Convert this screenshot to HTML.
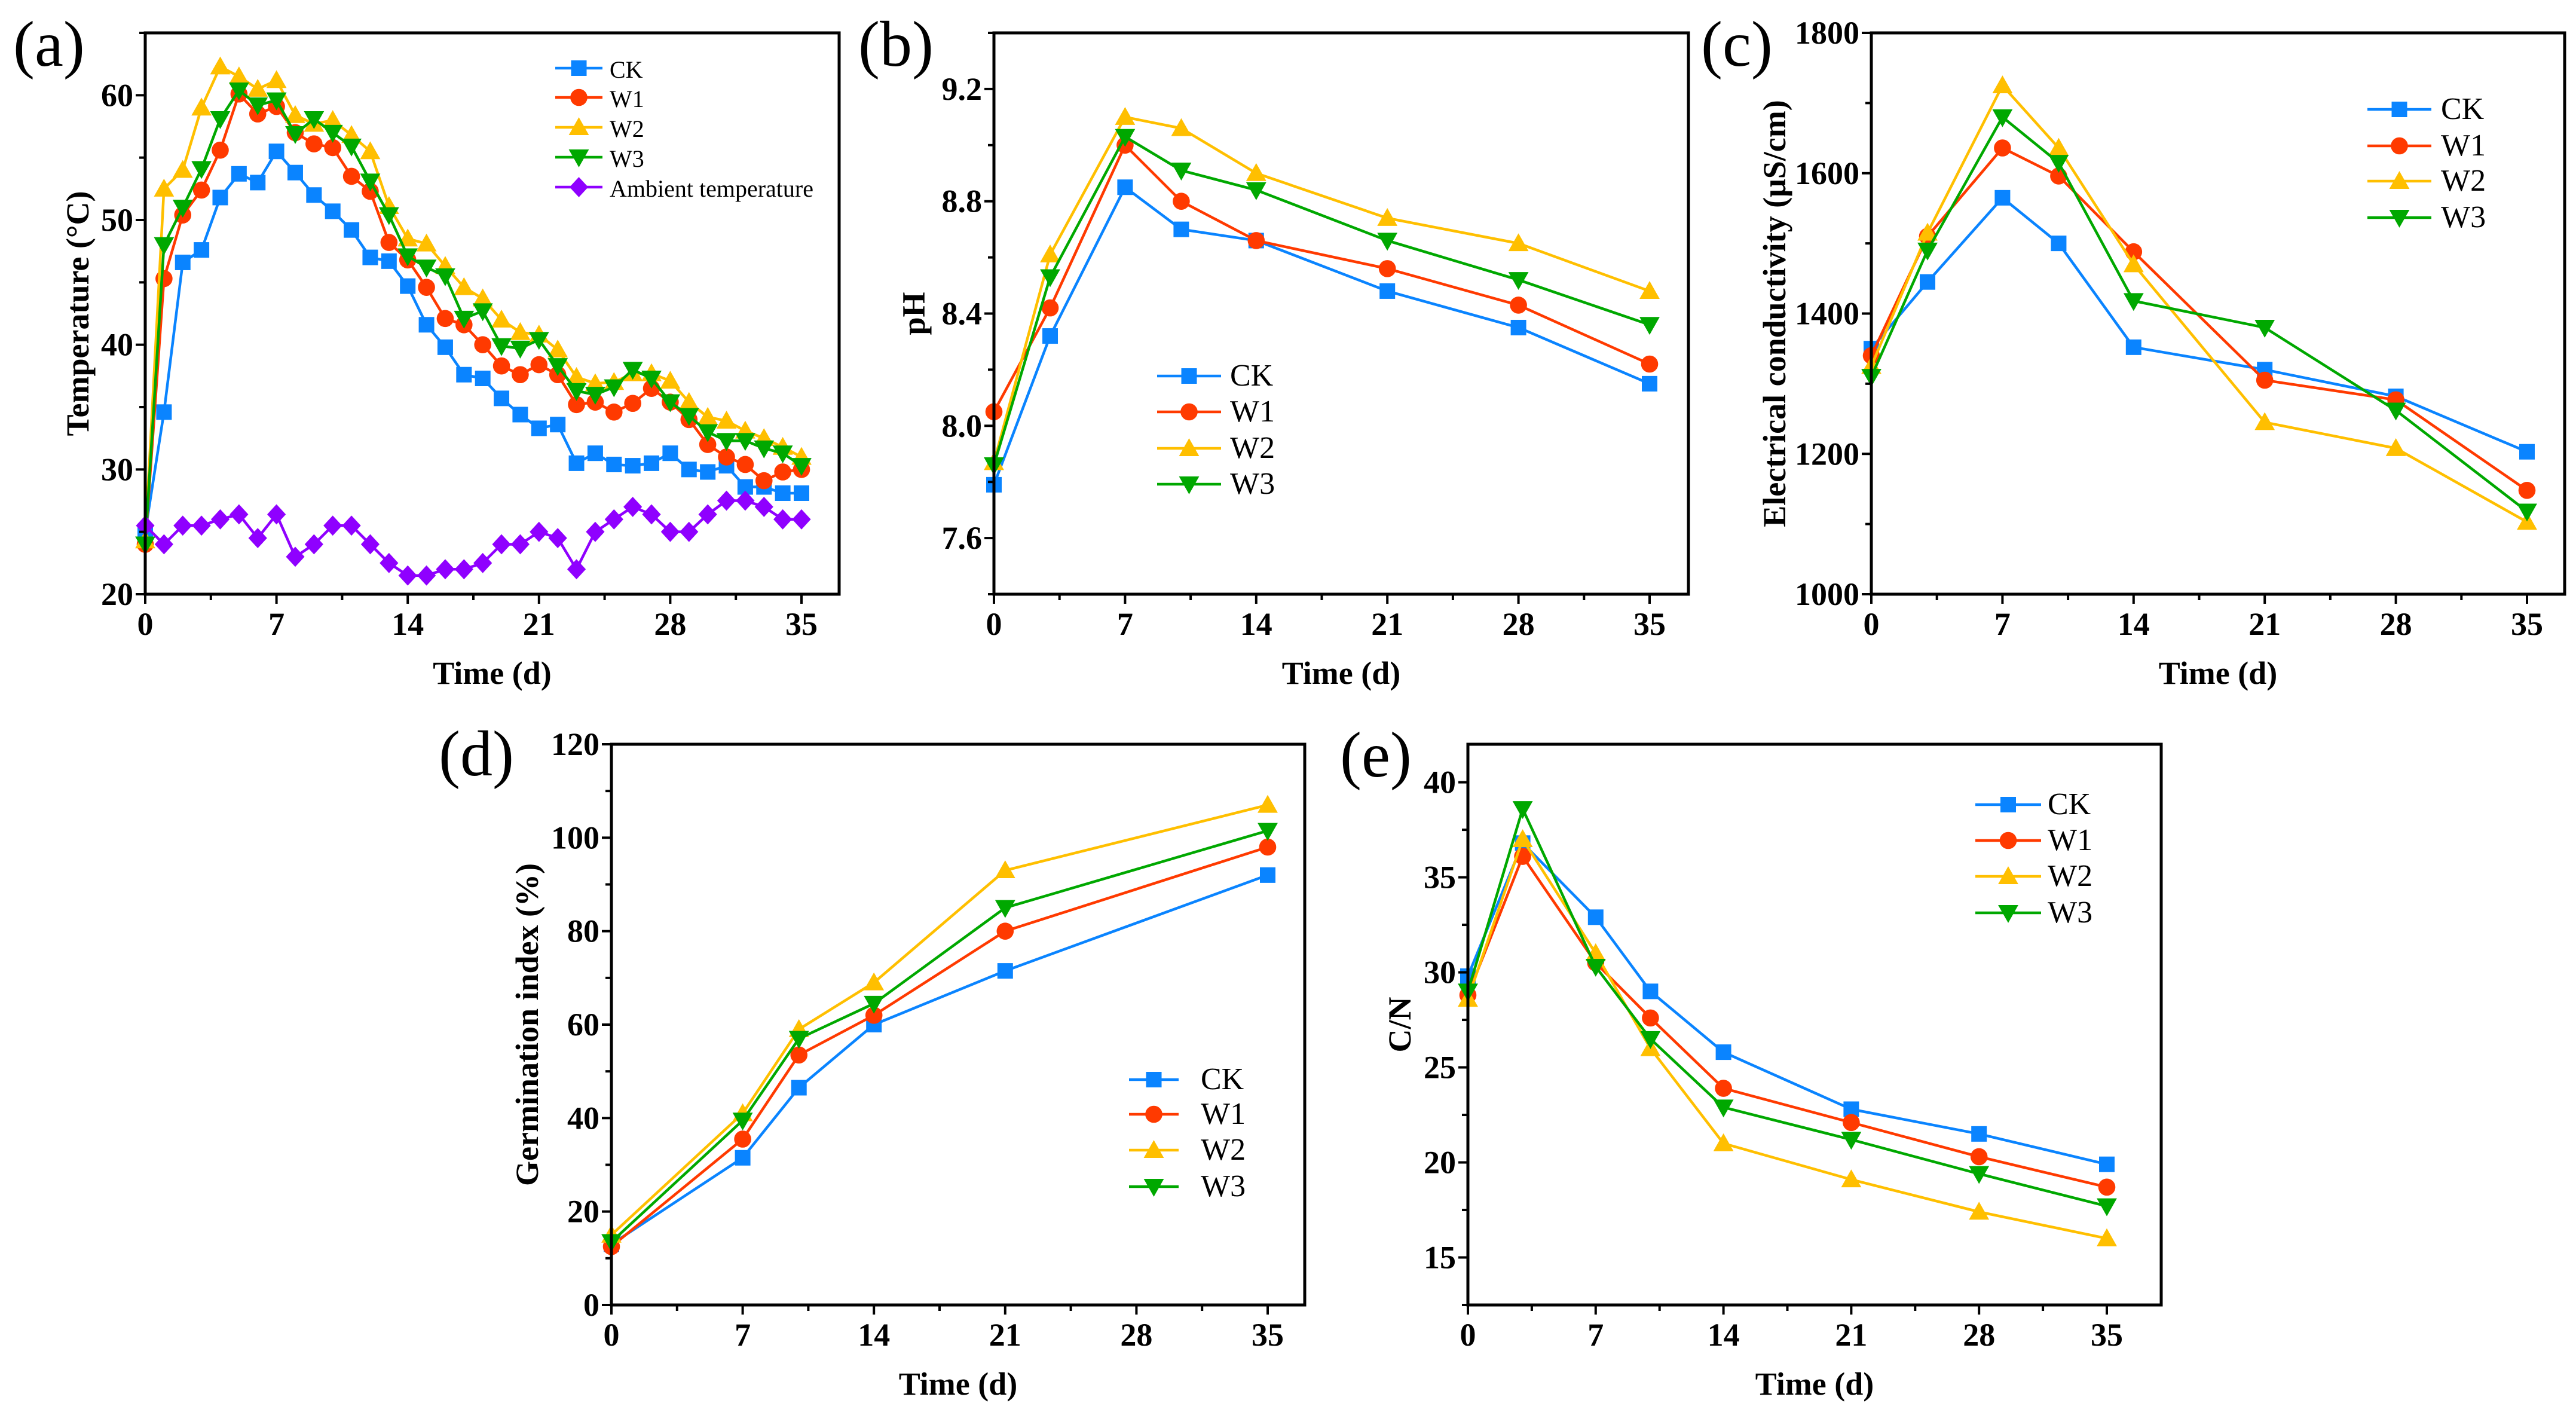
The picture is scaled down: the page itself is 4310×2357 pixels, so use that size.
<!DOCTYPE html>
<html><head><meta charset="utf-8"><style>
html,body{margin:0;padding:0;background:#fff;}
svg{display:block;font-family:"Liberation Serif",serif;}
</style></head><body>
<svg id="fig" width="4310" height="2357" viewBox="0 0 4310 2357" xmlns="http://www.w3.org/2000/svg"></svg>
<script>
// ---- Panel (a) temperature ----
const daysA = [0,1,2,3,4,5,6,7,8,9,10,11,12,13,14,15,16,17,18,19,20,21,22,23,24,25,26,27,28,29,30,31,32,33,34,35];
const tempCK = [25,34.6,46.6,47.6,51.8,53.7,53.0,55.5,53.8,52.0,50.7,49.2,47.0,46.7,44.7,41.6,39.8,37.6,37.3,35.7,34.4,33.3,33.6,30.5,31.3,30.4,30.3,30.5,31.3,30.0,29.8,30.3,28.6,28.6,28.1,28.1];
const tempW1 = [24.0,45.3,50.4,52.4,55.6,60.1,58.5,59.1,57.0,56.1,55.8,53.5,52.3,48.2,46.8,44.6,42.1,41.6,40.0,38.3,37.6,38.4,37.6,35.2,35.4,34.6,35.3,36.5,35.4,34.0,32.0,31.0,30.4,29.1,29.8,30.0];
const tempW2 = [24.3,52.5,54.0,59.0,62.3,61.5,60.5,61.2,58.4,57.7,58.0,56.8,55.5,51.1,48.5,48.1,46.3,44.6,43.7,42.0,41.0,40.8,39.6,37.4,36.9,37.0,37.7,37.7,37.1,35.4,34.2,33.9,33.1,32.5,31.8,31.0];
const tempW3 = [24.0,48.0,51.0,54.1,58.1,60.4,59.2,59.6,56.9,58.1,57.0,55.9,53.1,50.4,47.1,46.2,45.5,42.1,42.7,39.9,39.7,40.4,38.3,36.3,36.0,36.6,38.0,37.3,35.4,34.3,33.0,32.3,32.3,31.7,31.3,30.3];
const tempAmb = [25.5,24.0,25.5,25.5,26.0,26.4,24.5,26.4,23.0,24.0,25.5,25.5,24.0,22.5,21.5,21.5,22.0,22.0,22.5,24.0,24.0,25.0,24.5,22.0,25.0,26.0,27.0,26.4,25.0,25.0,26.4,27.5,27.5,27.0,26.0,26.0];
const ticksA = [20,30,40,50,60];
// ---- Panel (b) pH ----
const daysB = [0,3,7,10,14,21,28,35];
const phCK = [7.79,8.32,8.85,8.70,8.66,8.48,8.35,8.15];
const phW1 = [8.05,8.42,9.00,8.80,8.66,8.56,8.43,8.22];
const phW2 = [7.87,8.61,9.10,9.06,8.90,8.74,8.65,8.48];
const phW3 = [7.86,8.53,9.03,8.91,8.84,8.66,8.52,8.36];
const ticksB = [7.6,8.0,8.4,8.8,9.2];
// ---- Panel (c) EC ----
const ecCK = [1350,1445,1565,1500,1352,1320,1282,1203];
const ecW1 = [1340,1510,1636,1596,1488,1305,1277,1148];
const ecW2 = [1325,1515,1725,1636,1470,1245,1208,1103];
const ecW3 = [1310,1490,1680,1615,1418,1380,1262,1118];
const ticksC = [1000,1200,1400,1600,1800];
// ---- Panel (d) GI ----
const daysD = [0,7,10,14,21,35];
const giCK = [13,31.5,46.5,60,71.5,92];
const giW1 = [12.5,35.5,53.5,62,80,98];
const giW2 = [15,41,59,69,93,107];
const giW3 = [13.5,39.5,57,64.5,85,101.5];
const ticksD = [0,20,40,60,80,100,120];
// ---- Panel (e) C/N ----
const cnCK = [29.8,36.8,32.9,29.0,25.8,22.8,21.5,19.9];
const cnW1 = [28.8,36.1,30.5,27.6,23.9,22.1,20.3,18.7];
const cnW2 = [28.6,37.0,31.0,26.0,21.0,19.1,17.4,16.0];
const cnW3 = [29.0,38.6,30.3,26.5,22.9,21.2,19.4,17.7];
const ticksE = [15,20,25,30,35,40];
const xTicks = [0,7,14,21,28,35];

const NS='http://www.w3.org/2000/svg';
const svg=document.getElementById('fig');
function mk(tag,attrs,parent,text){const e=document.createElementNS(NS,tag);for(const k in attrs)e.setAttribute(k,attrs[k]);if(text!==undefined)e.textContent=text;(parent||svg).appendChild(e);return e;}
const COL={CK:'#0A84FF',W1:'#FF3A00',W2:'#FFBF00',W3:'#00A800',AMB:'#8F00FF'};
const SHAPE={CK:'square',W1:'circle',W2:'tri',W3:'itri',AMB:'diamond'};
const S=1.3;

function marker(g,shape,x,y,c){
  let e;
  if(shape==='square'){e=mk('rect',{x:x-10*S,y:y-10*S,width:20*S,height:20*S,fill:c},g);}
  else if(shape==='circle'){e=mk('circle',{cx:x,cy:y,r:11*S,fill:c},g);}
  else if(shape==='tri'){e=mk('polygon',{points:`${x},${y-13*S} ${x-13*S},${y+10*S} ${x+13*S},${y+10*S}`,fill:c},g);}
  else if(shape==='itri'){e=mk('polygon',{points:`${x},${y+13*S} ${x-13*S},${y-10*S} ${x+13*S},${y-10*S}`,fill:c},g);}
  else {e=mk('polygon',{points:`${x},${y-13*S} ${x+12*S},${y} ${x},${y+13*S} ${x-12*S},${y}`,fill:c},g);}
  
  
}

function panel(o){
  const g=mk('g',{});
  
  
  const xs=v=>o.x0+(v-0)/35*(o.x35-o.x0);
  const ys=v=>o.bottom-(v-o.ymin)/(o.ymax-o.ymin)*(o.bottom-o.top);
  o.series.forEach(s=>{
    const sg=mk('g',{},g);
    
    
    const pts=s.vals.map((v,i)=>xs(o.days[i])+','+ys(v)).join(' ');
    const pl=mk('polyline',{points:pts,fill:'none',stroke:COL[s.key],'stroke-width':4.5,'stroke-linejoin':'round'},sg);
    
    
    s.vals.forEach((v,i)=>marker(sg,SHAPE[s.key],xs(o.days[i]),ys(v),COL[s.key]));
  });
  const fr=mk('rect',{x:o.left,y:o.top,width:o.right-o.left,height:o.bottom-o.top,fill:'none',stroke:'#000','stroke-width':5},g);
  
  
  for(let d=0;d<=35.01;d+=3.5){
    const X=xs(d);const major=Math.abs(d/7-Math.round(d/7))<1e-6;
    mk('line',{x1:X,y1:o.bottom,x2:X,y2:o.bottom+(major?16:10),stroke:'#000','stroke-width':4},g);
  }
  xTicks.forEach(t=>{
    const tx=mk('text',{x:xs(t),y:o.bottom+68,'text-anchor':'middle','font-size':54,'font-weight':'bold'},g,String(t));
    
    
  });
  const step=o.yt[1]-o.yt[0];
  for(let v=o.yt[0]-step/2;v<=o.ymax+1e-9;v+=step/2){
    if(v<o.ymin-1e-9)continue;
    const Y=ys(v);const major=o.yt.some(t=>Math.abs(t-v)<1e-6);
    mk('line',{x1:o.left,y1:Y,x2:o.left-(major?16:10),y2:Y,stroke:'#000','stroke-width':4},g);
  }
  o.yt.forEach(t=>{
    const tx=mk('text',{x:o.left-20,y:ys(t)+18,'text-anchor':'end','font-size':54,'font-weight':'bold'},g,o.fmt?o.fmt(t):String(t));
    
    
  });
  const xt=mk('text',{x:(o.left+o.right)/2,y:o.bottom+150,'text-anchor':'middle','font-size':54,'font-weight':'bold'},g,'Time (d)');
  
  
  const yc=(o.top+o.bottom)/2;const ytx=o.left-o.ytOff;
  const yt=mk('text',{x:ytx,y:yc,'text-anchor':'middle','font-size':54,'font-weight':'bold',transform:`rotate(-90 ${ytx} ${yc})`,dy:18},g,o.ytitle);
  
  
  const pl=mk('text',{x:o.lx,y:o.ly,'font-size':108},g,o.label);
  
  
  const lg=mk('g',{},g);
  
  
  o.series.forEach((s,i)=>{
    const eg=mk('g',{},lg);
    
    
    const Y=o.leg.rows[i];
    mk('line',{x1:o.leg.x1,y1:Y,x2:o.leg.x2,y2:Y,stroke:COL[s.key],'stroke-width':4.5},eg);
    marker(eg,SHAPE[s.key],(o.leg.x1+o.leg.x2)/2,Y,COL[s.key]);
    mk('text',{x:o.leg.tx,y:Y+16,'font-size':o.leg.fs||52},eg,s.label||s.key);
  });
}

panel({name:'panel-a-temperature',label:'(a)',lx:22,ly:110,left:243,right:1404,top:55,bottom:994,x0:243,x35:1341,ymin:20,ymax:65,yt:ticksA,
  days:daysA,ytitle:'Temperature (°C)',ytOff:113,
  series:[{key:'CK',vals:tempCK},{key:'W1',vals:tempW1},{key:'W2',vals:tempW2},{key:'W3',vals:tempW3},{key:'AMB',vals:tempAmb,label:'Ambient temperature'}],
  leg:{x1:929,x2:1008,tx:1020,rows:[114,163,213,263,313],fs:40}});
panel({name:'panel-b-ph',label:'(b)',lx:1436,ly:110,left:1663,right:2825,top:55,bottom:994,x0:1663,x35:2760,ymin:7.4,ymax:9.4,yt:ticksB,fmt:t=>t.toFixed(1),
  days:daysB,ytitle:'pH',ytOff:134,
  series:[{key:'CK',vals:phCK},{key:'W1',vals:phW1},{key:'W2',vals:phW2},{key:'W3',vals:phW3}],
  leg:{x1:1936,x2:2043,tx:2058,rows:[629,689,750,810]}});
panel({name:'panel-c-ec',label:'(c)',lx:2846,ly:110,left:3131,right:4291,top:55,bottom:994,x0:3131,x35:4228,ymin:1000,ymax:1800,yt:ticksC,
  days:daysB,ytitle:'Electrical conductivity (μS/cm)',ytOff:162,
  series:[{key:'CK',vals:ecCK},{key:'W1',vals:ecW1},{key:'W2',vals:ecW2},{key:'W3',vals:ecW3}],
  leg:{x1:3961,x2:4068,tx:4084,rows:[183,244,303,364]}});
panel({name:'panel-d-germination',label:'(d)',lx:734,ly:1297,left:1023,right:2183,top:1245,bottom:2183,x0:1023,x35:2121,ymin:0,ymax:120,yt:ticksD,
  days:daysD,ytitle:'Germination index (%)',ytOff:141,
  series:[{key:'CK',vals:giCK},{key:'W1',vals:giW1},{key:'W2',vals:giW2},{key:'W3',vals:giW3}],
  leg:{x1:1889,x2:1972,tx:2009,rows:[1806,1864,1924,1985]}});
panel({name:'panel-e-cn-ratio',label:'(e)',lx:2242,ly:1299,left:2456,right:3616,top:1245,bottom:2183,x0:2456,x35:3525,ymin:12.5,ymax:42,yt:ticksE,
  days:daysB,ytitle:'C/N',ytOff:114,
  series:[{key:'CK',vals:cnCK},{key:'W1',vals:cnW1},{key:'W2',vals:cnW2},{key:'W3',vals:cnW3}],
  leg:{x1:3305,x2:3415,tx:3426,rows:[1346,1406,1466,1527]}});
</script>
</body></html>
